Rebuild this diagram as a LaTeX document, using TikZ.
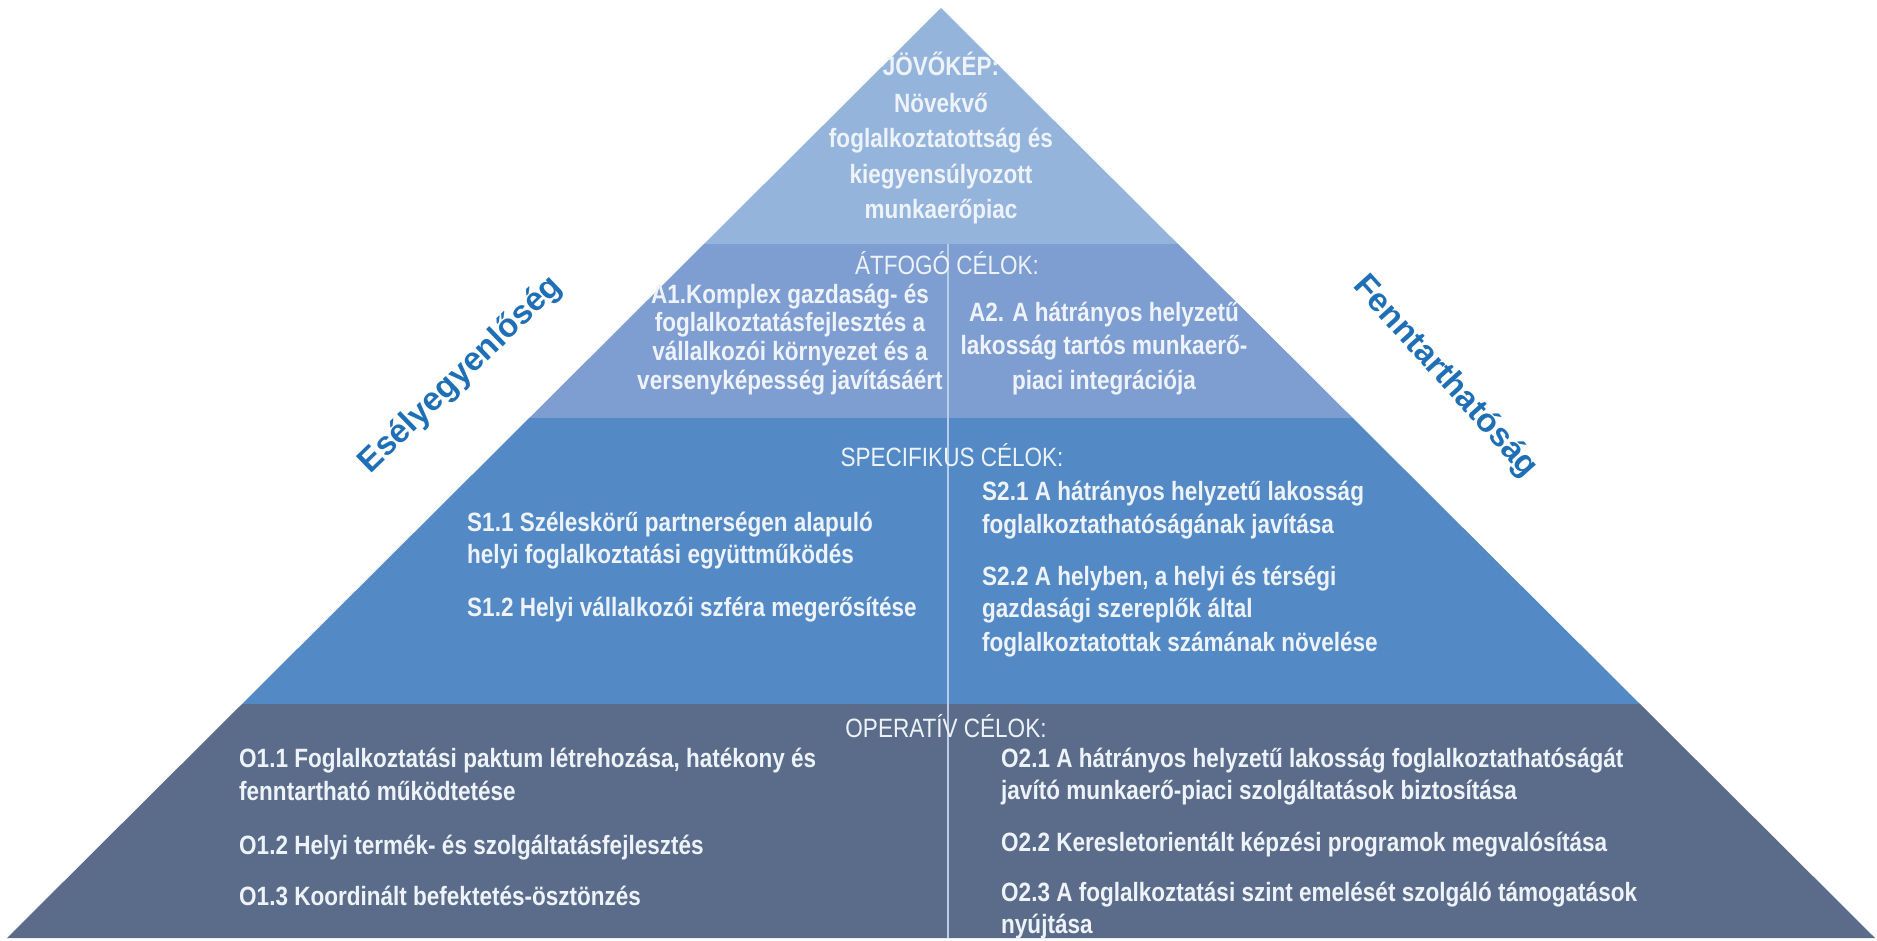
\documentclass[tikz,border=0pt]{standalone}
\usepackage{fontspec}
\setmainfont{Liberation Sans}[FakeStretch=0.85]
\newfontfamily\sidefont{Liberation Sans}
\definecolor{layA}{RGB}{149,180,219}
\definecolor{layB}{RGB}{126,157,209}
\definecolor{layC}{RGB}{83,137,196}
\definecolor{layD}{RGB}{90,108,138}
\definecolor{txtc}{RGB}{238,243,250}
\definecolor{sidec}{RGB}{31,111,183}
\definecolor{divc}{RGB}{185,205,232}
\begin{document}
\begin{tikzpicture}[x=1pt,y=-1pt,line join=round,
	txt/.style={text=txtc,inner sep=0pt,font=\fontsize{26.5}{32}\selectfont\bfseries},
	hd/.style={text=txtc,inner sep=0pt,anchor=base,font=\fontsize{26.5}{32}\selectfont},
	side/.style={text=sidec,inner sep=0pt,font=\sidefont\fontsize{33}{40}\selectfont\bfseries}]
	\useasboundingbox (0,0) rectangle (1877,941);
	\path
	(941,8) coordinate (T)
	(7,938) coordinate (L)
	(1875,938) coordinate (R)
	;
	% layers of the pyramid
	\begin{scope}
		\clip (T)--(L)--(R)--cycle;
		\fill[layA] (0,0) rectangle (1877,244);
		\fill[layB] (0,244) rectangle (1877,418);
		\fill[layC] (0,418) rectangle (1877,704);
		\fill[layD] (0,704) rectangle (1877,941);
		\draw[divc,line width=1.2pt] (948,244)--(948,938);
	\end{scope}
	% vision
	\foreach \t/\y [count=\i] in {JÖVŐKÉP:/76,Növekvő/113,foglalkoztatottság és/148,kiegyensúlyozott/184,munkaerőpiac/219}
	\node[txt,anchor=base] (v\i) at (941,\y) {\t};
	% overall goals
	\node[hd] (ah) at (947,275) {ÁTFOGÓ CÉLOK:};
	\foreach \t/\y [count=\i] in {A1.Komplex gazdaság- és/304,foglalkoztatásfejlesztés a/332,vállalkozói környezet és a/360,versenyképesség javításáért/389}
	\node[txt,anchor=base] (a1\i) at (790,\y) {\t};
	\foreach \t/\y [count=\i] in {A2. A hátrányos helyzetű/322,lakosság tartós munkaerő-/355,piaci integrációja/389}
	\node[txt,anchor=base] (a2\i) at (1104,\y) {\t};
	% specific goals
	\node[hd] (sh) at (952,466) {SPECIFIKUS CÉLOK:};
	\foreach \t/\y [count=\i] in {S1.1 Széleskörű partnerségen alapuló/531,helyi foglalkoztatási együttműködés/563,S1.2 Helyi vállalkozói szféra megerősítése/616}
	\node[txt,anchor=base west] (s1\i) at (467,\y) {\t};
	\foreach \t/\y [count=\i] in {S2.1 A hátrányos helyzetű lakosság/500,foglalkoztathatóságának javítása/533,S2.2 A helyben{,} a helyi és térségi/585,gazdasági szereplők által/617,foglalkoztatottak számának növelése/651}
	\node[txt,anchor=base west] (s2\i) at (982,\y) {\t};
	% operative goals
	\node[hd] (oh) at (946,737) {OPERATÍV CÉLOK:};
	\foreach \t/\y [count=\i] in {O1.1 Foglalkoztatási paktum létrehozása{,} hatékony és/767,fenntartható működtetése/800,O1.2 Helyi termék- és szolgáltatásfejlesztés/854,O1.3 Koordinált befektetés-ösztönzés/905}
	\node[txt,anchor=base west] (o1\i) at (239,\y) {\t};
	\foreach \t/\y [count=\i] in {O2.1 A hátrányos helyzetű lakosság foglalkoztathatóságát/767,javító munkaerő-piaci szolgáltatások biztosítása/799,O2.2 Keresletorientált képzési programok megvalósítása/851,O2.3 A foglalkoztatási szint emelését szolgáló támogatások/901,nyújtása/933}
	\node[txt,anchor=base west] (o2\i) at (1001,\y) {\t};
	% side labels
	\node[side,rotate=44] (esely) at (461,375) {Esélyegyenlőség};
	\node[side,rotate=-48] (fennt) at (1445,377) {Fenntarthatóság};
\end{tikzpicture}
\end{document}
